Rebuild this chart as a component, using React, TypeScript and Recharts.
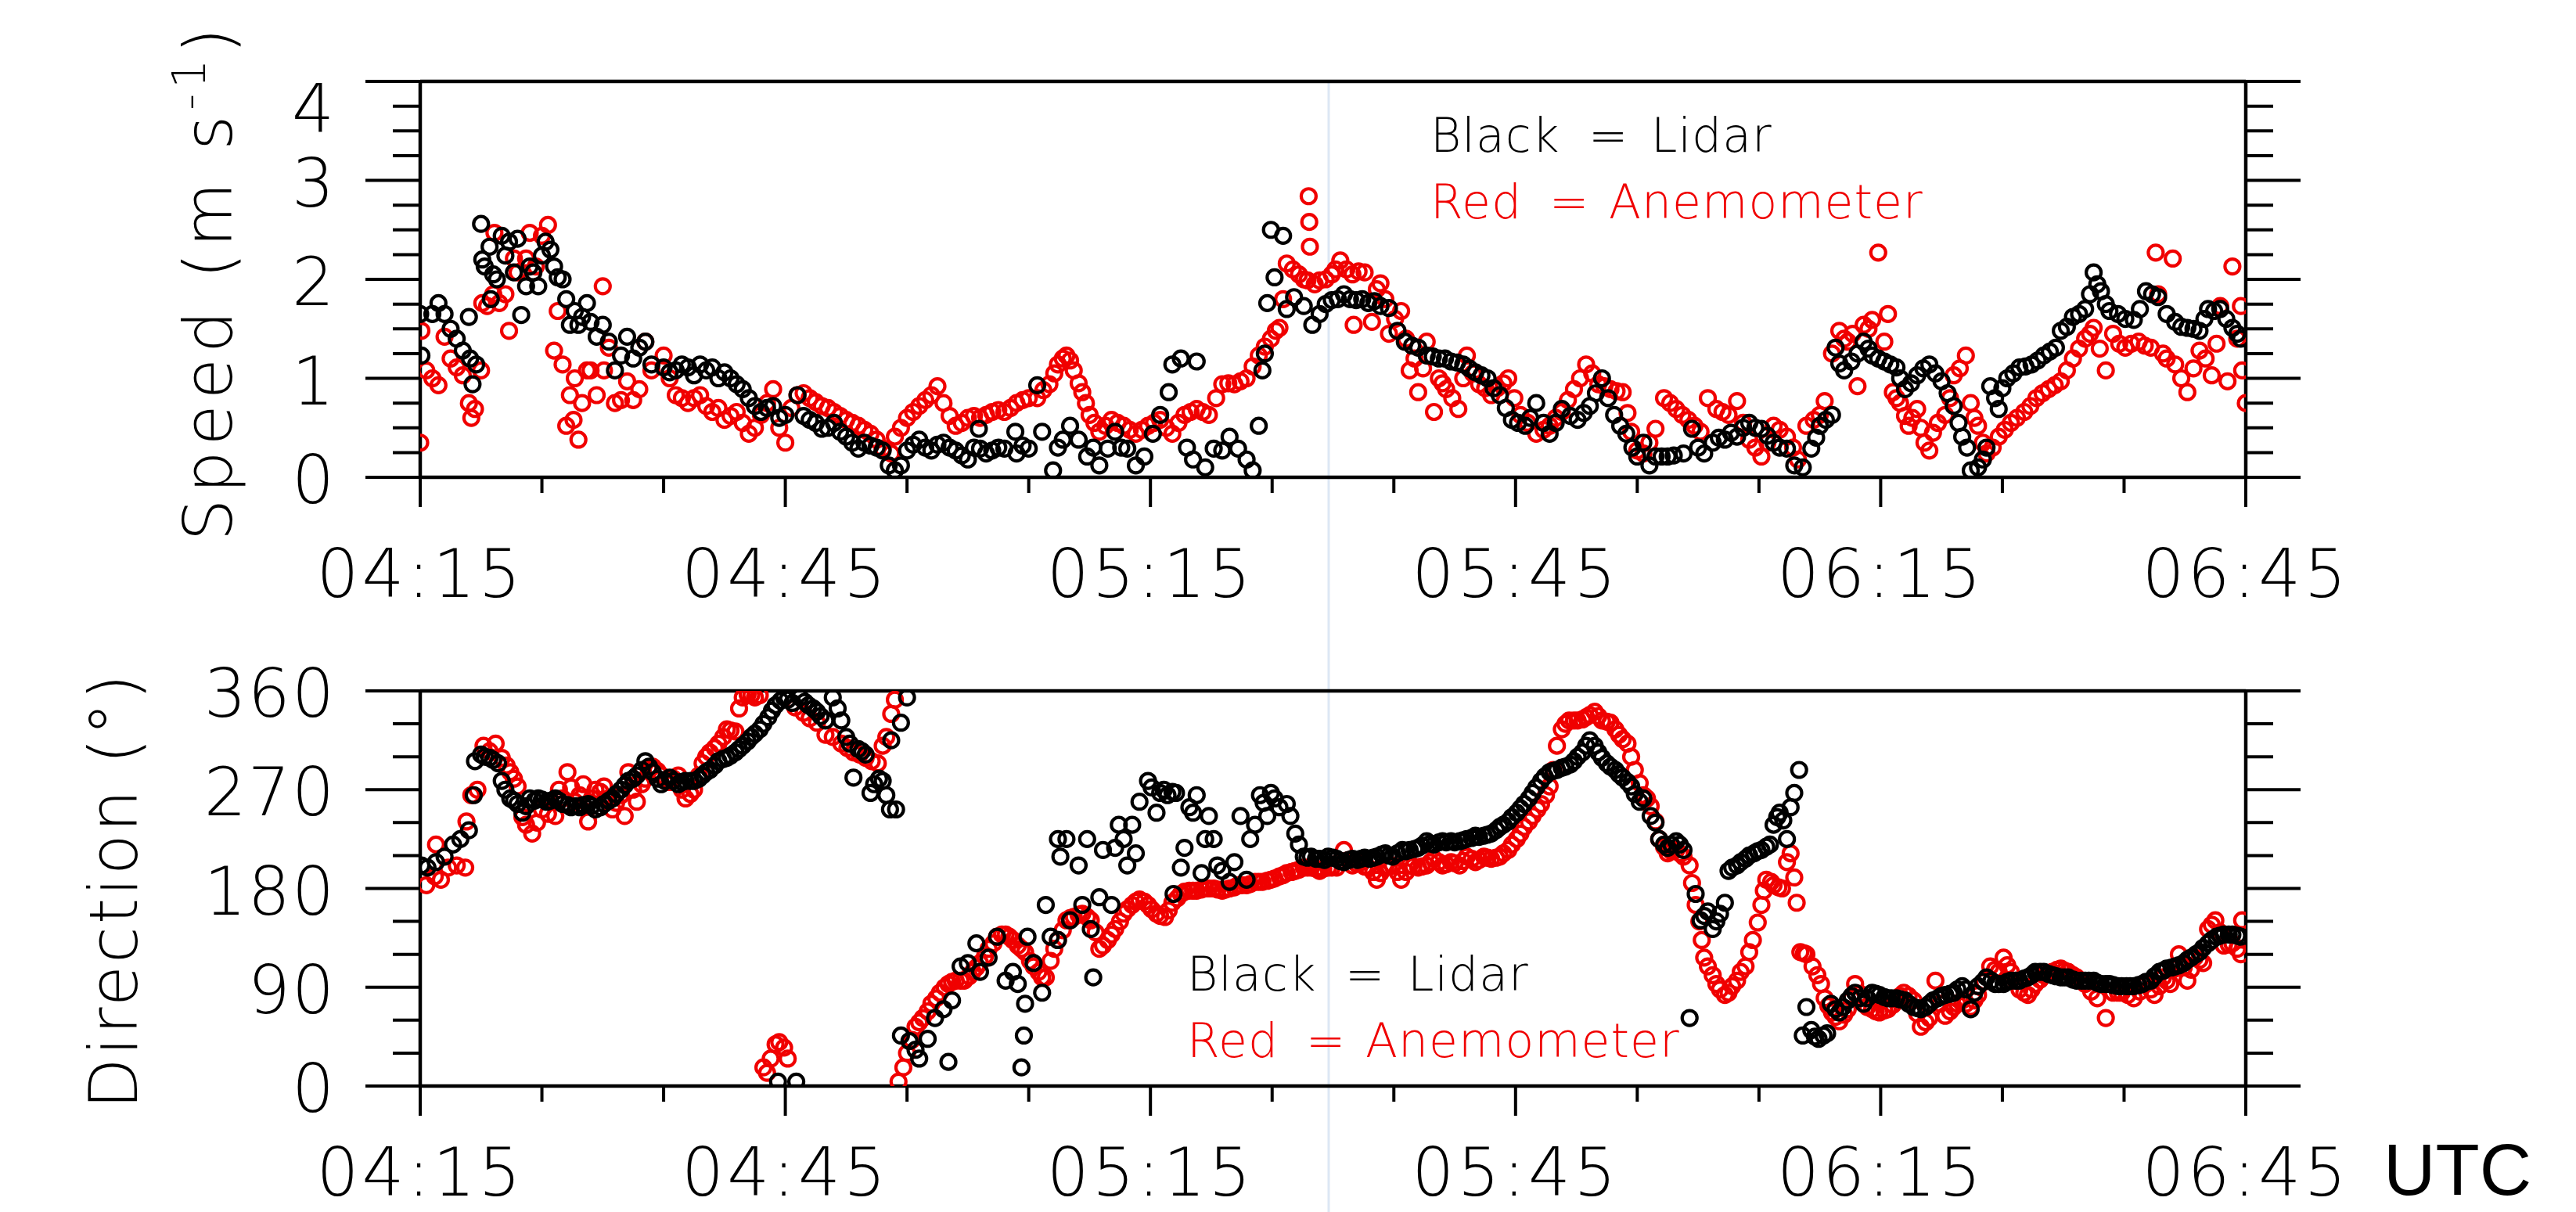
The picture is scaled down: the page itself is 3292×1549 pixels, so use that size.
import React from 'react'
import { ScatterChart, Scatter, XAxis, YAxis } from 'recharts'

// minutes after 04:15
const timeTicks = [0, 10, 20, 30, 40, 50, 60, 70, 80, 90, 100, 110, 120, 130, 140, 150]
const timeLabels = ['04:15', '04:45', '05:15', '05:45', '06:15', '06:45']
const speedTicks = [0, 0.25, 0.5, 0.75, 1, 1.25, 1.5, 1.75, 2, 2.25, 2.5, 2.75, 3, 3.25, 3.5, 3.75, 4]
const speedLabels = ['0', '1', '2', '3', '4']
const dirTicks = [0, 30, 60, 90, 120, 150, 180, 210, 240, 270, 300, 330, 360]
const dirLabels = ['0', '90', '180', '270', '360']

// [minute, m/s]
const lidarSpeed = [
  [0, 1.65], [0.1, 1.23], [1, 1.65], [1.5, 1.76], [2, 1.65], [2.5, 1.5], [3, 1.4], [3.5, 1.28], [4, 1.62], [4.1, 1.2],
  [4.3, 0.94], [4.6, 1.14], [5, 2.56], [5.1, 2.2], [5.3, 2.13], [5.7, 2.33], [5.8, 1.8], [6, 2.05], [6.3, 2.0], [6.7, 2.44],
  [7, 2.24], [7.3, 2.38], [7.7, 2.07], [8, 2.41], [8.3, 1.64], [8.7, 1.93], [9, 2.13], [9.3, 2.07], [9.7, 1.93], [10, 2.24],
  [10.3, 2.38], [10.7, 2.3], [11, 2.13], [11.3, 2.02], [11.7, 2.0], [12, 1.8], [12.3, 1.54], [12.7, 1.68], [13, 1.54], [13.3, 1.62],
  [13.7, 1.76], [14, 1.57], [14.5, 1.42], [15, 1.54], [15.5, 1.37], [16, 1.08], [16.5, 1.23], [17, 1.42], [17.5, 1.2], [18, 1.31],
  [18.5, 1.37], [19, 1.14], [20, 1.11], [20.5, 1.06], [21, 1.08], [21.5, 1.14], [22, 1.11], [22.5, 1.03], [23, 1.14], [23.5, 1.08],
  [24, 1.11], [24.5, 1.0], [25, 1.06], [25.5, 1.0], [26, 0.94], [26.5, 0.89], [27, 0.8], [27.5, 0.72], [28, 0.66], [28.5, 0.7],
  [29, 0.72], [29.5, 0.6], [30, 0.63], [31, 0.83], [31.5, 0.62], [32, 0.58], [32.5, 0.55], [33, 0.49], [33.5, 0.5], [34, 0.55],
  [34.5, 0.46], [35, 0.41], [35.5, 0.35], [36, 0.29], [36.5, 0.35], [37, 0.32], [37.5, 0.3], [38, 0.27], [38.5, 0.12], [39, 0.07],
  [39.5, 0.12], [40, 0.27], [40.5, 0.33], [41, 0.38], [41.5, 0.3], [42, 0.27], [42.5, 0.33], [43, 0.35], [43.5, 0.3], [44, 0.27],
  [44.5, 0.22], [45, 0.18], [45.9, 0.49], [45.5, 0.3], [46, 0.29], [46.5, 0.24], [47, 0.27], [47.5, 0.3], [48, 0.29], [48.9, 0.46],
  [49, 0.24], [49.5, 0.32], [50, 0.29], [50.7, 0.93], [51.1, 0.46], [52, 0.07], [52.4, 0.3], [52.8, 0.38], [53.4, 0.52], [54.1, 0.38],
  [54.8, 0.21], [55.3, 0.3], [55.8, 0.12], [56.5, 0.29], [57.1, 0.46], [57.6, 0.3], [58.1, 0.29], [58.8, 0.12], [59.5, 0.21], [60.2, 0.44],
  [60.8, 0.63], [61.5, 0.86], [61.8, 1.14], [62.5, 1.2], [63, 0.3], [63.5, 0.18], [63.8, 1.17], [64.5, 0.1], [65.2, 0.29], [65.9, 0.27],
  [66.5, 0.41], [67.2, 0.29], [67.9, 0.18], [68.4, 0.07], [68.9, 0.52], [69.2, 1.08], [69.4, 1.25], [69.6, 1.76], [69.9, 2.5], [70.2, 2.02],
  [70.9, 2.44], [71.2, 1.7], [71.8, 1.82], [72.6, 1.73], [73.3, 1.54], [73.9, 1.65], [74.4, 1.75], [74.9, 1.79], [75.4, 1.8], [75.9, 1.85],
  [76.4, 1.8], [76.9, 1.79], [77.4, 1.8], [77.9, 1.76], [78.4, 1.78], [78.9, 1.73], [79.6, 1.71], [80.3, 1.48], [80.9, 1.37], [81.5, 1.33],
  [82, 1.31], [82.7, 1.23], [83.2, 1.22], [83.7, 1.2], [84.2, 1.2], [84.7, 1.17], [85.2, 1.16], [85.7, 1.14], [86.2, 1.1], [86.7, 1.06],
  [87.2, 1.03], [87.7, 1.0], [88.2, 0.9], [88.7, 0.83], [89.2, 0.7], [89.7, 0.58], [90.2, 0.55], [90.8, 0.52], [91.2, 0.6], [91.7, 0.75],
  [92.3, 0.55], [92.8, 0.44], [93.3, 0.55], [93.8, 0.69], [94.5, 0.62], [95.1, 0.58], [95.6, 0.65], [96.1, 0.72], [96.6, 0.85], [97.1, 1.0],
  [97.6, 0.8], [98.1, 0.63], [98.6, 0.52], [99.1, 0.44], [99.6, 0.3], [100, 0.21], [100.5, 0.35], [101, 0.12], [101.5, 0.21], [102, 0.21],
  [102.5, 0.21], [103, 0.22], [103.8, 0.24], [104.5, 0.49], [105, 0.3], [105.5, 0.24], [106.2, 0.35], [106.7, 0.4], [107.2, 0.38], [107.7, 0.45],
  [108.2, 0.41], [108.7, 0.5], [109.2, 0.55], [109.7, 0.5], [110.2, 0.49], [110.7, 0.42], [111.2, 0.35], [111.7, 0.3], [112.3, 0.29], [112.9, 0.12],
  [113.6, 0.1], [114.3, 0.29], [114.7, 0.4], [115, 0.52], [115.5, 0.58], [116, 0.63], [116.3, 1.31], [116.6, 1.15], [117, 1.08], [117.6, 1.17],
  [118.1, 1.25], [118.6, 1.37], [119, 1.3], [119.3, 1.23], [119.8, 1.2], [120.3, 1.17], [120.8, 1.14], [121.3, 1.11], [121.6, 1.0], [122, 0.89],
  [122.5, 0.95], [123, 1.03], [123.5, 1.1], [124, 1.14], [124.5, 1.05], [125, 0.97], [125.5, 0.85], [126, 0.72], [126.4, 0.55], [126.7, 0.41],
  [127.1, 0.3], [127.4, 0.07], [128, 0.1], [128.4, 0.18], [128.7, 0.3], [129, 0.92], [129.4, 0.8], [129.7, 0.69], [130, 0.9], [130.4, 1.0],
  [130.9, 1.05], [131.4, 1.11], [131.9, 1.12], [132.4, 1.14], [132.9, 1.18], [133.4, 1.23], [133.9, 1.27], [134.4, 1.31], [134.8, 1.48], [135.3, 1.52],
  [135.8, 1.62], [136.3, 1.65], [136.8, 1.7], [137.2, 1.85], [137.5, 2.07], [137.8, 1.95], [138.1, 1.88], [138.5, 1.75], [138.8, 1.68], [139.5, 1.65],
  [140.1, 1.6], [140.8, 1.59], [141.3, 1.7], [141.8, 1.88], [142.3, 1.85], [142.8, 1.82], [143.5, 1.65], [144.2, 1.57], [144.7, 1.52], [145.2, 1.51],
  [145.7, 1.5], [146.2, 1.48], [146.6, 1.6], [146.9, 1.7], [147.4, 1.68], [147.9, 1.7], [148.4, 1.6], [148.9, 1.51], [149.3, 1.45], [149.6, 1.4],
]

const anemoSpeed = [
  [0, 0.35], [0.1, 1.48], [0.5, 1.08], [1, 1.0], [1.5, 0.93], [2, 1.42], [2.5, 1.2], [3, 1.11], [3.5, 1.03], [4, 0.75],
  [4.2, 0.6], [4.5, 0.69], [5, 1.08], [5.1, 1.76], [5.5, 1.73], [6, 1.85], [6.1, 2.47], [6.5, 1.76], [7, 1.85], [7.3, 1.48],
  [7.7, 2.21], [8, 2.07], [8.7, 2.21], [9, 2.47], [9.5, 2.13], [10, 2.44], [10.5, 2.55], [11, 1.28], [11.3, 1.68], [11.7, 1.14],
  [12, 0.52], [12.3, 0.83], [12.6, 0.58], [12.7, 1.0], [13, 0.38], [13.3, 0.75], [13.7, 1.08], [14, 1.08], [14.5, 0.83], [15, 1.93],
  [15.1, 1.08], [15.5, 1.31], [16, 0.75], [16.5, 0.78], [17, 0.97], [17.5, 0.78], [18, 0.89], [18.5, 1.37], [19, 1.08], [20, 1.23],
  [20.5, 1.0], [21, 0.83], [21.5, 0.8], [22, 0.75], [22.5, 0.8], [23, 0.83], [23.5, 0.72], [24, 0.66], [24.5, 0.7], [25, 0.58],
  [25.5, 0.62], [26, 0.66], [26.5, 0.55], [27, 0.44], [27.5, 0.5], [28, 0.63], [28.5, 0.75], [29, 0.89], [29.5, 0.5], [30, 0.35],
  [30.5, 0.7], [31, 0.83], [31.5, 0.85], [32, 0.8], [32.5, 0.76], [33, 0.72], [33.5, 0.7], [34, 0.66], [34.5, 0.62], [35, 0.58],
  [35.5, 0.55], [36, 0.52], [36.5, 0.48], [37, 0.44], [37.5, 0.38], [38, 0.29], [38.7, 0.24], [39, 0.41], [39.5, 0.5], [40, 0.6],
  [40.5, 0.66], [41, 0.72], [41.5, 0.78], [42, 0.83], [42.5, 0.92], [43, 0.75], [43.5, 0.62], [44, 0.52], [44.5, 0.55], [45, 0.6],
  [45.5, 0.62], [46, 0.6], [46.5, 0.63], [47, 0.66], [47.5, 0.68], [48, 0.66], [48.5, 0.7], [49, 0.75], [49.5, 0.78], [50, 0.8],
  [50.7, 0.8], [51.2, 0.88], [51.7, 0.94], [52.1, 1.05], [52.4, 1.14], [52.8, 1.2], [53.1, 1.23], [53.4, 1.18], [53.7, 1.08], [54.1, 0.95],
  [54.4, 0.86], [54.7, 0.75], [55, 0.63], [55.4, 0.55], [55.8, 0.46], [56.3, 0.52], [56.8, 0.58], [57.3, 0.55], [57.8, 0.52], [58.3, 0.48],
  [58.8, 0.44], [59.3, 0.48], [59.8, 0.52], [60.3, 0.55], [60.8, 0.58], [61.3, 0.5], [61.8, 0.44], [62.3, 0.55], [62.8, 0.63], [63.3, 0.66],
  [63.8, 0.69], [64.3, 0.66], [64.8, 0.63], [65.4, 0.8], [65.9, 0.94], [66.4, 0.95], [66.9, 0.94], [67.4, 0.97], [67.9, 1.0], [68.4, 1.12],
  [68.9, 1.23], [69.4, 1.32], [69.9, 1.4], [70.3, 1.48], [70.6, 1.51], [70.9, 1.8], [71.2, 2.16], [71.7, 2.1], [72.2, 2.05], [72.6, 2.0],
  [72.9, 1.99], [73, 2.84], [73.05, 2.58], [73.1, 2.33], [73.5, 1.95], [73.9, 1.99], [74.4, 2.0], [74.9, 2.05], [75.2, 2.1], [75.6, 2.19],
  [76.1, 2.1], [76.6, 2.05], [76.7, 1.54], [77.1, 2.08], [77.6, 2.07], [78.2, 1.57], [78.6, 1.9], [78.9, 1.96], [79.3, 1.8], [79.6, 1.45],
  [80.1, 1.6], [80.6, 1.68], [81, 1.4], [81.3, 1.08], [81.7, 1.2], [82, 0.86], [82.4, 1.1], [82.7, 1.37], [83.3, 0.66], [83.7, 1.0],
  [84, 0.95], [84.3, 0.89], [84.8, 0.8], [85.3, 0.69], [85.7, 1.0], [86, 1.23], [86.5, 1.05], [87, 0.94], [87.5, 0.9], [88, 0.83],
  [88.5, 0.9], [89, 0.95], [89.4, 1.0], [89.9, 0.8], [90.4, 0.63], [91, 0.55], [91.7, 0.44], [92.3, 0.48], [92.8, 0.52], [93.3, 0.6],
  [93.8, 0.66], [94.3, 0.78], [94.8, 0.89], [95.3, 1.0], [95.8, 1.14], [96.3, 1.05], [96.8, 0.94], [97.3, 0.92], [97.8, 0.89], [98.3, 0.87],
  [98.8, 0.86], [99.2, 0.65], [99.5, 0.46], [100, 0.27], [100.5, 0.24], [101, 0.35], [101.5, 0.49], [102.2, 0.8], [102.7, 0.75], [103.2, 0.69],
  [103.7, 0.63], [104.2, 0.58], [104.7, 0.52], [105.2, 0.46], [105.8, 0.8], [106.5, 0.69], [107, 0.66], [107.5, 0.63], [108.2, 0.77], [108.7, 0.55],
  [109.2, 0.38], [109.7, 0.3], [110.2, 0.21], [110.7, 0.35], [111.2, 0.52], [111.7, 0.48], [112.3, 0.41], [112.8, 0.3], [113.2, 0.18], [113.9, 0.52],
  [114.5, 0.58], [115, 0.63], [115.4, 0.77], [116, 1.25], [116.6, 1.48], [117, 1.4], [117.3, 1.37], [117.7, 1.45], [118.1, 0.92], [118.6, 1.54],
  [119, 1.5], [119.3, 1.59], [119.8, 2.27], [120.3, 1.37], [120.6, 1.65], [121, 0.86], [121.3, 0.8], [121.6, 0.75], [122, 0.62], [122.3, 0.52],
  [122.6, 0.6], [123, 0.69], [123.3, 0.5], [123.6, 0.35], [124, 0.27], [124.3, 0.45], [124.7, 0.55], [125.3, 0.63], [125.7, 0.8], [126, 1.03],
  [126.5, 1.1], [127, 1.23], [127.4, 0.75], [127.7, 0.6], [128, 0.52], [128.4, 0.35], [128.7, 0.24], [129.2, 0.3], [129.7, 0.41], [130.2, 0.48],
  [130.7, 0.55], [131.2, 0.6], [131.8, 0.66], [132.3, 0.72], [132.8, 0.8], [133.3, 0.85], [133.8, 0.89], [134.3, 0.93], [134.8, 0.97], [135.3, 1.08],
  [135.8, 1.2], [136.3, 1.3], [136.8, 1.4], [137.2, 1.45], [137.5, 1.51], [138, 1.3], [138.5, 1.08], [139.1, 1.45], [139.6, 1.35], [140.1, 1.31],
  [140.6, 1.35], [141.2, 1.37], [141.7, 1.33], [142.2, 1.31], [142.6, 2.27], [142.8, 1.85], [143.2, 1.25], [143.5, 1.2], [144, 2.21], [144.2, 1.14],
  [144.7, 1.0], [145.2, 0.86], [145.7, 1.1], [146.2, 1.28], [146.7, 1.2], [147.2, 1.03], [147.6, 1.35], [147.9, 1.73], [148.5, 0.97], [148.9, 2.13],
  [149.3, 1.4], [149.6, 1.73], [149.7, 1.08], [150, 0.75],
]

// [minute, degrees]
const lidarDir = [
  [0.1, 201], [0.6, 199], [1.3, 204], [2, 209], [2.7, 220], [3.3, 225], [4, 233], [4.4, 265], [4.5, 296], [5, 302],
  [5.3, 300], [5.7, 299], [6, 297], [6.4, 294], [6.7, 278], [7, 270], [7.4, 262], [7.7, 260], [8, 257], [8.4, 249],
  [8.7, 255], [9, 262], [9.4, 260], [9.7, 262], [10, 261], [10.4, 259], [10.7, 260], [11.1, 262], [11.4, 260], [11.7, 257],
  [12.1, 256], [12.4, 254], [12.8, 255], [13.1, 254], [13.4, 256], [13.8, 257], [14.1, 255], [14.4, 252], [14.8, 254], [15.1, 257],
  [15.5, 260], [15.8, 262], [16.1, 266], [16.5, 270], [16.8, 274], [17.1, 278], [17.5, 280], [17.8, 283], [18.2, 288], [18.5, 296],
  [18.8, 291], [19.1, 286], [19.5, 280], [19.8, 275], [20.1, 278], [20.5, 281], [20.8, 278], [21.2, 275], [21.5, 277], [21.8, 278],
  [22.2, 278], [22.5, 278], [22.9, 280], [23.2, 283], [23.5, 286], [23.8, 288], [24.2, 292], [24.5, 296], [24.9, 298], [25.2, 299],
  [25.5, 301], [25.9, 304], [26.2, 307], [26.5, 310], [26.9, 314], [27.2, 318], [27.5, 321], [27.9, 325], [28.2, 330], [28.6, 336],
  [28.9, 342], [29.2, 347], [29.4, 4], [29.6, 351], [29.9, 354], [30.2, 352], [30.6, 349], [30.9, 4], [31.2, 354], [31.6, 350],
  [31.9, 347], [32.3, 344], [32.6, 341], [32.9, 337], [33.3, 333], [33.9, 354], [34.3, 344], [34.6, 333], [35, 318], [35.3, 312],
  [35.6, 281], [36, 307], [36.3, 305], [36.6, 302], [37, 267], [37.3, 275], [37.7, 280], [38, 278], [38.3, 265], [38.6, 252],
  [38.7, 315], [39.1, 252], [39.5, 331], [40, 354],
  [39.5, 46], [40.2, 41], [40.7, 33], [41, 25], [41.7, 43], [42.3, 62], [43, 70], [43.4, 22], [43.7, 78], [44.4, 109],
  [45, 112], [45.7, 130], [46, 104], [46.7, 117], [47.4, 136], [48.1, 96], [48.7, 104], [49.1, 93], [49.4, 17], [49.6, 46],
  [49.7, 75], [49.9, 136], [50.4, 112], [51.1, 85], [51.4, 165], [51.8, 136], [52.4, 133], [52.4, 225], [52.6, 209], [53.1, 225],
  [53.4, 151], [54.1, 201], [54.4, 165], [54.8, 225], [55.1, 143], [55.3, 99], [55.8, 172], [56.1, 215], [56.8, 165], [57.1, 217],
  [57.4, 238], [57.8, 225], [58.1, 201], [58.5, 238], [58.8, 212], [59.1, 259], [59.8, 278], [60.1, 272], [60.5, 249], [60.8, 267],
  [61.1, 270], [61.4, 265], [61.8, 268], [62.1, 267], [61.9, 175], [62.5, 199], [62.8, 217], [63.2, 254], [63.5, 249], [63.8, 265],
  [64.2, 194], [64.5, 225], [64.8, 246], [65.2, 225], [65.5, 201], [65.9, 196], [66.5, 186], [66.9, 204], [67.4, 246], [67.9, 188],
  [68.2, 225], [68.6, 238], [69, 265], [69.3, 258], [69.6, 246], [69.9, 267], [70.2, 262], [70.6, 254], [71.2, 257], [71.5, 246],
  [71.9, 230], [72.2, 220], [72.6, 209], [72.9, 208], [73.2, 209], [73.6, 207], [73.9, 207], [74.3, 206], [74.6, 209], [75, 208],
  [75.3, 207], [75.6, 205], [75.9, 204], [76.3, 206], [76.6, 207], [77, 206], [77.3, 207], [77.6, 208], [78, 207], [78.3, 208],
  [78.6, 209], [79, 211], [79.3, 212], [79.6, 210], [79.9, 209], [80.3, 212], [80.7, 215], [81, 214], [81.3, 215], [81.7, 216],
  [82, 217], [82.3, 219], [82.7, 223], [83, 221], [83.3, 220], [83.7, 222], [84, 223], [84.3, 222], [84.7, 223], [85, 222],
  [85.4, 223], [85.7, 224], [86, 225], [86.4, 226], [86.7, 228], [87, 227], [87.4, 228], [87.7, 229], [88, 230], [88.4, 233],
  [88.7, 236], [89, 238], [89.4, 241], [89.7, 245], [90.1, 249], [90.4, 253], [90.7, 257], [91.1, 262], [91.4, 267], [91.7, 272],
  [92.1, 278], [92.4, 282], [92.8, 286], [93.1, 287], [93.4, 288], [93.8, 290], [94.1, 291], [94.5, 293], [94.8, 296], [95.1, 300],
  [95.5, 304], [95.8, 310], [96.1, 315], [96.5, 310], [96.8, 304], [97.1, 299], [97.5, 294], [97.8, 291], [98.2, 288], [98.5, 284],
  [98.8, 281], [99.2, 277], [99.5, 273], [99.8, 266], [100.2, 259], [100.5, 262], [101.1, 246], [101.5, 240], [101.8, 225], [102.2, 220],
  [102.5, 217], [102.8, 220], [103.2, 223], [103.5, 220], [103.8, 215], [104.3, 62], [104.8, 175], [105.2, 151], [105.5, 155], [105.8, 159],
  [106.2, 143], [106.5, 150], [106.8, 157], [107.2, 167], [107.5, 196], [107.8, 199], [108.2, 201], [108.5, 204], [108.9, 207], [109.2, 210],
  [109.6, 212], [109.9, 214], [110.2, 215], [110.6, 218], [110.9, 220], [111.2, 238], [111.5, 245], [111.7, 249], [112, 242], [112.3, 225],
  [112.6, 254], [112.9, 267], [113.3, 288], [113.6, 46], [113.9, 72], [114.3, 51], [114.6, 45], [114.9, 43], [115.3, 46], [115.6, 48],
  [115.9, 75], [116.3, 70], [116.6, 67], [116.9, 72], [117.3, 78], [117.6, 82], [117.9, 85], [118.3, 80], [118.6, 75], [118.9, 80],
  [119.3, 85], [119.6, 84], [119.9, 83], [120.3, 81], [120.6, 80], [120.9, 80], [121.3, 80], [121.6, 79], [122, 78], [122.3, 75],
  [122.7, 72], [123, 71], [123.3, 70], [123.7, 72], [124, 75], [124.3, 78], [124.7, 80], [125, 82], [125.3, 83], [125.7, 84],
  [126, 85], [126.3, 88], [126.7, 91], [127, 88], [127.4, 70], [127.7, 85], [128, 91], [128.4, 95], [128.7, 99], [129.1, 96],
  [129.4, 93], [129.7, 93], [130.1, 93], [130.4, 95], [130.7, 96], [131.1, 96], [131.4, 96], [131.8, 98], [132.1, 99], [132.4, 101],
  [132.7, 104], [133.1, 104], [133.4, 104], [133.8, 102], [134.1, 101], [134.4, 100], [134.8, 99], [135.1, 99], [135.4, 99], [135.8, 97],
  [136.1, 96], [136.5, 96], [136.8, 96], [137.1, 96], [137.5, 96], [137.8, 94], [138.1, 93], [138.5, 93], [138.8, 93], [139.1, 92],
  [139.5, 91], [139.8, 91], [140.2, 91], [140.5, 91], [140.8, 91], [141.2, 92], [141.5, 93], [141.8, 95], [142.2, 96], [142.5, 100],
  [142.9, 104], [143.2, 105], [143.5, 107], [143.9, 108], [144.2, 109], [144.5, 110], [144.9, 112], [145.2, 115], [145.5, 117], [145.9, 120],
  [146.2, 122], [146.5, 126], [146.9, 130], [147.2, 133], [147.6, 136], [147.9, 137], [148.2, 138], [148.6, 138], [148.9, 138], [149.3, 137],
  [149.6, 136],
]

const anemoDir = [
  [0.5, 183], [1.2, 191], [1.3, 220], [1.7, 188], [2.3, 199], [3, 201], [3.7, 199], [3.8, 241], [4.2, 265], [4.7, 270],
  [5.2, 310], [5.7, 305], [6.2, 312], [6.7, 299], [7.1, 292], [7.4, 286], [7.7, 280], [8, 273], [8.4, 245], [8.7, 238],
  [9.2, 230], [9.6, 240], [10, 252], [10.5, 248], [11.1, 246], [11.4, 270], [11.7, 262], [12.1, 286], [12.4, 272], [12.7, 259],
  [13.1, 265], [13.4, 275], [13.8, 241], [14.1, 262], [14.4, 270], [14.8, 268], [15.1, 273], [15.5, 262], [15.8, 252], [16.1, 258],
  [16.5, 265], [16.8, 246], [17.1, 286], [17.5, 270], [17.8, 259], [18.2, 275], [18.5, 280], [18.8, 288], [19.1, 291], [19.5, 287],
  [19.8, 283], [20.2, 279], [20.5, 277], [20.8, 280], [21.2, 283], [21.5, 270], [21.8, 262], [22.2, 266], [22.5, 270], [22.9, 283],
  [23.2, 294], [23.5, 300], [23.8, 304], [24.2, 308], [24.5, 312], [24.9, 318], [25.2, 325], [25.5, 324], [25.9, 323], [26.2, 344],
  [26.5, 354], [26.9, 357], [27.2, 356], [27.5, 354], [27.9, 356], [28.2, 17], [28.5, 12], [28.8, 25], [29.2, 38], [29.5, 40],
  [29.9, 35], [30.2, 25], [30.8, 345], [31.5, 340], [32, 335], [32.6, 331], [33.3, 320], [33.9, 318], [34.6, 312], [35.1, 308],
  [35.6, 304], [36.1, 302], [36.6, 299], [37.1, 296], [37.6, 294], [38, 310], [38.3, 318], [38.7, 339], [39, 352], [39.3, 4],
  [39.7, 17], [40, 30], [40.4, 42], [40.7, 54], [41, 58], [41.3, 62], [41.7, 68], [42, 75], [42.4, 80], [42.7, 85],
  [43.1, 90], [43.4, 93], [43.7, 95], [44, 96], [44.4, 96], [44.7, 96], [45.1, 100], [45.4, 104], [45.7, 108], [46, 112],
  [46.4, 118], [46.7, 125], [47.1, 130], [47.4, 136], [47.8, 138], [48.1, 138], [48.4, 136], [48.7, 133], [49.1, 128], [49.4, 125],
  [49.7, 122], [50.1, 114], [50.4, 109], [50.8, 104], [51.1, 99], [51.4, 99], [51.8, 114], [52.1, 125], [52.4, 133], [52.8, 142],
  [53.1, 151], [53.4, 153], [53.7, 154], [54.1, 156], [54.4, 157], [54.8, 154], [55.1, 151], [55.5, 140], [55.8, 125], [56.1, 128],
  [56.5, 133], [56.8, 138], [57.1, 143], [57.5, 150], [57.8, 157], [58.1, 161], [58.5, 165], [58.8, 168], [59.1, 170], [59.5, 168],
  [59.8, 165], [60.1, 161], [60.5, 157], [60.8, 155], [61.2, 154], [61.5, 160], [61.8, 167], [62.2, 171], [62.5, 175], [62.8, 177],
  [63.2, 178], [63.5, 178], [63.8, 178], [64.2, 179], [64.5, 180], [64.8, 180], [65.2, 180], [65.5, 179], [65.9, 178], [66.2, 179],
  [66.5, 180], [66.9, 181], [67.2, 183], [67.5, 183], [67.9, 183], [68.2, 184], [68.6, 186], [68.9, 186], [69.2, 186], [69.6, 187],
  [69.9, 188], [70.2, 189], [70.6, 191], [70.9, 192], [71.2, 194], [71.6, 195], [71.9, 196], [72.2, 197], [72.6, 199], [72.9, 199],
  [73.2, 199], [73.6, 198], [73.9, 196], [74.2, 198], [74.6, 199], [74.9, 199], [75.3, 199], [75.6, 205], [75.9, 215], [76.3, 206],
  [76.6, 201], [76.9, 203], [77.3, 204], [77.6, 200], [77.9, 199], [78.3, 195], [78.6, 188], [78.9, 194], [79.3, 199], [79.6, 200],
  [79.9, 201], [80.3, 195], [80.6, 188], [81, 195], [81.3, 201], [81.6, 200], [82, 199], [82.3, 200], [82.7, 201], [83, 204],
  [83.3, 207], [83.7, 204], [84, 201], [84.3, 202], [84.7, 204], [85, 203], [85.4, 201], [85.7, 205], [86, 209], [86.4, 207],
  [86.7, 204], [87, 206], [87.4, 209], [87.7, 208], [88, 207], [88.4, 208], [88.7, 209], [89, 212], [89.4, 215], [89.7, 220],
  [90.1, 225], [90.4, 230], [90.7, 236], [91.1, 241], [91.4, 246], [91.8, 252], [92.1, 257], [92.5, 265], [92.8, 273], [93.1, 288],
  [93.4, 310], [93.8, 325], [94.1, 330], [94.4, 333], [94.8, 333], [95.1, 333], [95.5, 334], [95.8, 336], [96.1, 338], [96.5, 341],
  [96.8, 337], [97.1, 333], [97.5, 332], [97.8, 331], [98.2, 325], [98.5, 320], [98.8, 316], [99.2, 312], [99.5, 300], [99.8, 288],
  [100.2, 276], [100.5, 265], [100.8, 262], [101.1, 255], [101.5, 241], [101.8, 225], [102.2, 218], [102.5, 212], [102.8, 214], [103.2, 215],
  [103.5, 212], [103.8, 209], [104.3, 201], [104.5, 185], [104.8, 165], [105.1, 150], [105.3, 133], [105.5, 117], [105.8, 109], [106.2, 101],
  [106.5, 93], [106.8, 88], [107.2, 83], [107.5, 85], [107.8, 91], [108.2, 96], [108.5, 104], [108.9, 109], [109.2, 122], [109.5, 133],
  [109.9, 149], [110.2, 165], [110.4, 178], [110.6, 188], [111, 186], [111.2, 183], [111.6, 181], [111.9, 180], [112.3, 204], [112.6, 212],
  [112.9, 190], [113.1, 167], [113.4, 122], [113.7, 121], [113.9, 120], [114.4, 109], [114.8, 101], [115.1, 93], [115.4, 80], [115.7, 73],
  [116, 67], [116.3, 63], [116.6, 59], [117, 65], [117.3, 70], [117.6, 80], [117.9, 93], [118.3, 84], [118.6, 75], [118.9, 72],
  [119.3, 70], [119.6, 68], [119.9, 67], [120.3, 69], [120.6, 70], [121, 74], [121.3, 79], [121.6, 82], [121.9, 85], [122.3, 82],
  [122.7, 78], [123, 66], [123.3, 54], [123.7, 58], [124, 62], [124.5, 96], [124.9, 75], [125.3, 64], [125.7, 68], [126, 72],
  [126.3, 75], [126.7, 78], [127, 75], [127.4, 72], [127.7, 78], [128, 83], [128.5, 95], [129, 109], [129.4, 106], [129.7, 104],
  [130.1, 117], [130.4, 110], [130.7, 104], [131.1, 96], [131.4, 88], [131.8, 85], [132.1, 83], [132.4, 88], [132.7, 93], [133.1, 97],
  [133.4, 101], [133.8, 103], [134.1, 104], [134.5, 106], [134.8, 107], [135.1, 105], [135.4, 104], [135.8, 101], [136.1, 99], [136.5, 96],
  [136.8, 93], [137.3, 86], [137.8, 80], [138.5, 62], [139.1, 85], [139.5, 85], [139.8, 85], [140.3, 83], [140.8, 80], [141.3, 86],
  [141.8, 93], [142.2, 88], [142.5, 83], [142.9, 91], [143.2, 99], [143.5, 96], [143.8, 93], [144.2, 107], [144.5, 120], [144.9, 108],
  [145.2, 96], [145.5, 106], [145.8, 117], [146.2, 115], [146.5, 112], [146.9, 143], [147.2, 147], [147.5, 151], [147.9, 140], [148.2, 128],
  [148.6, 129], [148.9, 130], [149.3, 125], [149.6, 120], [149.7, 151],
]

const toPts = (arr: number[][]) => arr.map(([t, v]) => ({ t, v }))

const FONT = "'DejaVu Sans', 'Liberation Sans', sans-serif"
const RED = '#f00000'
const INK = '#000'
const LABEL_SIZE = 85

const ring = (color: string) => (p: any) => (
  <circle cx={p.cx} cy={p.cy} r={9.5} fill="none" stroke={color} strokeWidth={4.2} />
)

const xTick = (side: 'top' | 'bottom', labelDy: number) => (p: any) => {
  const v = p.payload.value
  const major = v % 30 === 0
  const dir = side === 'top' ? -1 : 1
  return (
    <g>
      <line x1={p.x} y1={p.y} x2={p.x} y2={p.y + dir * (major ? 38 : 20)} stroke={INK} strokeWidth={4} />
      {side === 'bottom' && major && (
        <text x={p.x} y={p.y + labelDy} textAnchor="middle" fontFamily={FONT} fontWeight={200}
          fontSize={LABEL_SIZE} letterSpacing={4} fill={INK}>
          {timeLabels[v / 30]}
        </text>
      )}
    </g>
  )
}

const yTick = (side: 'left' | 'right', step: number, labels: string[], lastShift: number) => (p: any) => {
  const v = p.payload.value
  const idx = Math.round(v / step)
  const major = Math.abs(v / step - idx) < 1e-6
  const dir = side === 'left' ? -1 : 1
  const shift = idx === labels.length - 1 ? lastShift : 0
  return (
    <g>
      <line x1={p.x} y1={p.y} x2={p.x + dir * (major ? 70 : 35)} y2={p.y} stroke={INK} strokeWidth={4} />
      {side === 'left' && major && (
        <text x={p.x - 108} y={p.y + 33 + shift} textAnchor="end" fontFamily={FONT} fontWeight={200}
          fontSize={LABEL_SIZE} letterSpacing={2} fill={INK}>
          {labels[idx]}
        </text>
      )}
    </g>
  )
}

const axisLine = { stroke: INK, strokeWidth: 4.5 }

const Panel = ({ red, black, yMax, ticks, step, labels, lastShift, top, height, marginTop, bottomH, labelDy }: any) => (
  <div style={{ position: 'absolute', left: 0, top }}>
    <ScatterChart width={3292} height={height} margin={{ top: marginTop, right: 382, bottom: 0, left: 397 }}>
      <XAxis xAxisId="b" type="number" dataKey="t" domain={[0, 150]} ticks={timeTicks} interval={0}
        allowDataOverflow height={bottomH} tickSize={0} tickMargin={0} tickLine={false} axisLine={axisLine}
        tick={xTick('bottom', labelDy)} />
      <XAxis xAxisId="t" orientation="top" type="number" domain={[0, 150]} ticks={timeTicks} interval={0}
        allowDataOverflow height={40} tickSize={0} tickMargin={0} tickLine={false} axisLine={axisLine}
        tick={xTick('top', 0)} />
      <YAxis yAxisId="l" type="number" dataKey="v" domain={[0, yMax]} ticks={ticks} interval={0}
        allowDataOverflow width={140} tickSize={0} tickMargin={0} tickLine={false} axisLine={axisLine}
        tick={yTick('left', step, labels, lastShift)} />
      <YAxis yAxisId="r" orientation="right" type="number" domain={[0, yMax]} ticks={ticks} interval={0}
        allowDataOverflow width={40} tickSize={0} tickMargin={0} tickLine={false} axisLine={axisLine}
        tick={yTick('right', step, labels, 0)} />
      <Scatter xAxisId="b" yAxisId="l" data={toPts(red)} shape={ring(RED)} isAnimationActive={false} />
      <Scatter xAxisId="b" yAxisId="l" data={toPts(black)} shape={ring(INK)} isAnimationActive={false} />
    </ScatterChart>
  </div>
)

const txt = { fontFamily: FONT, fontWeight: 200 }

// legend words placed like the original annotation (wide gaps around "=")
const Legend = ({ x, y }: { x: number; y: number }) => (
  <g fontSize={60} {...txt}>
    <text y={y} fill={INK} letterSpacing={1}>
      <tspan x={x}>Black</tspan><tspan x={x + 202}>=</tspan><tspan x={x + 282}>Lidar</tspan>
    </text>
    <text y={y + 85} fill={RED} letterSpacing={1}>
      <tspan x={x}>Red</tspan><tspan x={x + 152}>=</tspan><tspan x={x + 228}>Anemometer</tspan>
    </text>
  </g>
)

export default function App() {
  return (
    <div style={{ position: 'absolute', left: 0, top: 0, width: 3292, height: 1549, background: '#fff', overflow: 'hidden' }}>
      <svg width={3292} height={1549} style={{ position: 'absolute', left: 0, top: 0 }}>
        <line x1={1698} y1={104} x2={1698} y2={1549} stroke="#dde7f4" strokeWidth={3} />
      </svg>
      <Panel red={anemoSpeed} black={lidarSpeed} yMax={4} ticks={speedTicks} step={1} labels={speedLabels}
        lastShift={32} top={0} height={810} marginTop={64} bottomH={200} labelDy={153} />
      <Panel red={anemoDir} black={lidarDir} yMax={360} ticks={dirTicks} step={90} labels={dirLabels}
        lastShift={0} top={770} height={779} marginTop={73} bottomH={161} labelDy={140} />
      <svg width={3292} height={1549} style={{ position: 'absolute', left: 0, top: 0, pointerEvents: 'none' }}>
        <text transform="translate(296,360) rotate(-90)" textAnchor="middle" fontSize={LABEL_SIZE} letterSpacing={7} {...txt}>
          Speed (m s<tspan dy={-34} fontSize={58}>-1</tspan><tspan dy={34}>)</tspan>
        </text>
        <text transform="translate(175,1138) rotate(-90)" textAnchor="middle" fontSize={LABEL_SIZE} letterSpacing={3} {...txt}>
          Direction (°)
        </text>
        <Legend x={1828} y={194} />
        <Legend x={1517} y={1266} />
        <text x={3046} y={1527} fontSize={92} fontFamily="'Liberation Sans', Arial, sans-serif" fill={INK}>UTC</text>
      </svg>
    </div>
  )
}
